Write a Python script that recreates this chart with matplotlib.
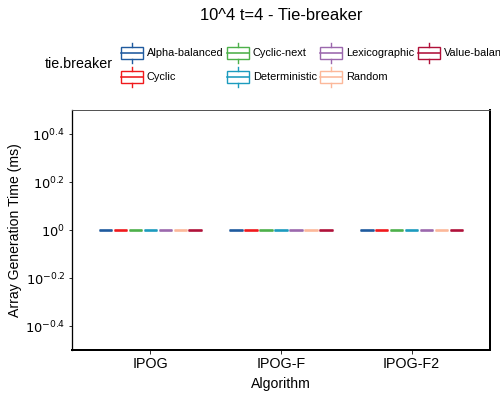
import matplotlib
matplotlib.use("Agg")
import matplotlib.pyplot as plt
from matplotlib.legend_handler import HandlerBase
from matplotlib.patches import Rectangle
from matplotlib.lines import Line2D
import numpy as np

plt.rcParams['font.family'] = ['Liberation Sans', 'DejaVu Sans']

# data: every run took the same time, so each box collapses to a line at 1 ms
algorithms = ['IPOG', 'IPOG-F', 'IPOG-F2']
tie_breakers = ['Alpha-balanced', 'Cyclic', 'Cyclic-next', 'Deterministic',
                'Lexicographic', 'Random', 'Value-balanced']
colors = ['#1F5A9E', '#F0191C', '#4DB04A', '#1C9BBE', '#9B68AD', '#FCB89A', '#B0113A']
times = {
    'IPOG':    [[1.0, 1.0, 1.0]] * 7,
    'IPOG-F':  [[1.0, 1.0, 1.0]] * 7,
    'IPOG-F2': [[1.0, 1.0, 1.0]] * 7,
}
ytick_exp = [-0.4, -0.2, 0, 0.2, 0.4]


class BoxKey(HandlerBase):
    # draws a little boxplot glyph like ggplot's legend key
    def create_artists(self, legend, orig, xd, yd, w, h, fontsize, trans):
        c = orig.get_color()
        cx = xd + w / 2
        bh = 12
        by = yd + (h - bh) / 2 - 3   # nudge down so it lines up with the label
        rect = Rectangle((xd, by), w, bh, facecolor='white', edgecolor=c,
                         lw=1.4, transform=trans)
        med = Line2D([xd, xd + w], [by + bh / 2] * 2, color=c, lw=1.6, transform=trans)
        w1 = Line2D([cx, cx], [by + bh, by + bh + 4], color=c, lw=1.4, transform=trans)
        w2 = Line2D([cx, cx], [by - 4, by], color=c, lw=1.4, transform=trans)
        return [rect, med, w1, w2]


fig = plt.figure(figsize=(500 / 72, 400 / 72), dpi=72)
ax = fig.add_axes([72 / 500, 50 / 400, 418 / 500, 240 / 400])

n = len(tie_breakers)
dodge = 0.8
slot = dodge / n
for i, alg in enumerate(algorithms):
    for j, tb in enumerate(tie_breakers):
        pos = i + 1 - dodge / 2 + slot * (j + 0.5)
        bp = ax.boxplot([times[alg][j]], positions=[pos], widths=slot * 0.9,
                        patch_artist=True, manage_ticks=False, showfliers=False)
        for b in bp['boxes']:
            b.set(facecolor='white', edgecolor=colors[j], linewidth=1.2)
        for k in bp['medians']:
            k.set(color=colors[j], linewidth=2.6, solid_capstyle='butt')
        for k in bp['whiskers'] + bp['caps']:
            k.set(color=colors[j], linewidth=1.0)
        for k in bp['caps']:
            k.set_visible(False)

ax.set_yscale('log')
ax.set_ylim(10 ** -0.5, 10 ** 0.5)
ax.set_yticks([10 ** e for e in ytick_exp])
ax.set_yticklabels([r'$10^{%s}$' % (f'{e:g}') for e in ytick_exp])
ax.yaxis.set_minor_locator(matplotlib.ticker.NullLocator())
ax.set_xlim(0.4, 3.6)
ax.set_xticks([1, 2, 3])
ax.set_xticklabels(algorithms)

ax.tick_params(axis='both', labelsize=13, colors='#333333', labelcolor='black',
               length=3.5, width=1, direction='out')
ax.tick_params(axis='x', labelsize=14.3)
ax.set_xlabel('Algorithm', fontsize=14, labelpad=6)
ax.set_ylabel('Array Generation Time (ms)', fontsize=14, labelpad=3)

for side in ['top', 'left']:
    ax.spines[side].set_color('#555555')
    ax.spines[side].set_linewidth(1.0)
for side in ['bottom', 'right']:
    ax.spines[side].set_color('black')
    ax.spines[side].set_linewidth(2.0)
ax.spines['left'].set_color('black')
ax.spines['left'].set_linewidth(1.3)

fig.text(281 / 500, 1 - 15 / 400, '10^4 t=4 - Tie-breaker', fontsize=16.5,
         ha='center', va='center')

# legend: key boxes 22 px wide, rows ~24 px apart, "Value-balanced" runs off the edge as in the original
handles = [Line2D([], [], color=c) for c in colors]
leg = fig.legend(handles, tie_breakers, handler_map={Line2D: BoxKey()},
                 ncol=4, loc='upper left', bbox_to_anchor=(121 / 500, 1 - 47 / 400),
                 frameon=False, fontsize=11, handlelength=2.0, handleheight=1.0,
                 handletextpad=0.36, columnspacing=0.3, labelspacing=1.2,
                 borderaxespad=0, borderpad=0)
fig.text(45 / 500, 1 - 64 / 400, 'tie.breaker', fontsize=14.3, ha='left', va='center')

fig.savefig('out.png', dpi=72)
